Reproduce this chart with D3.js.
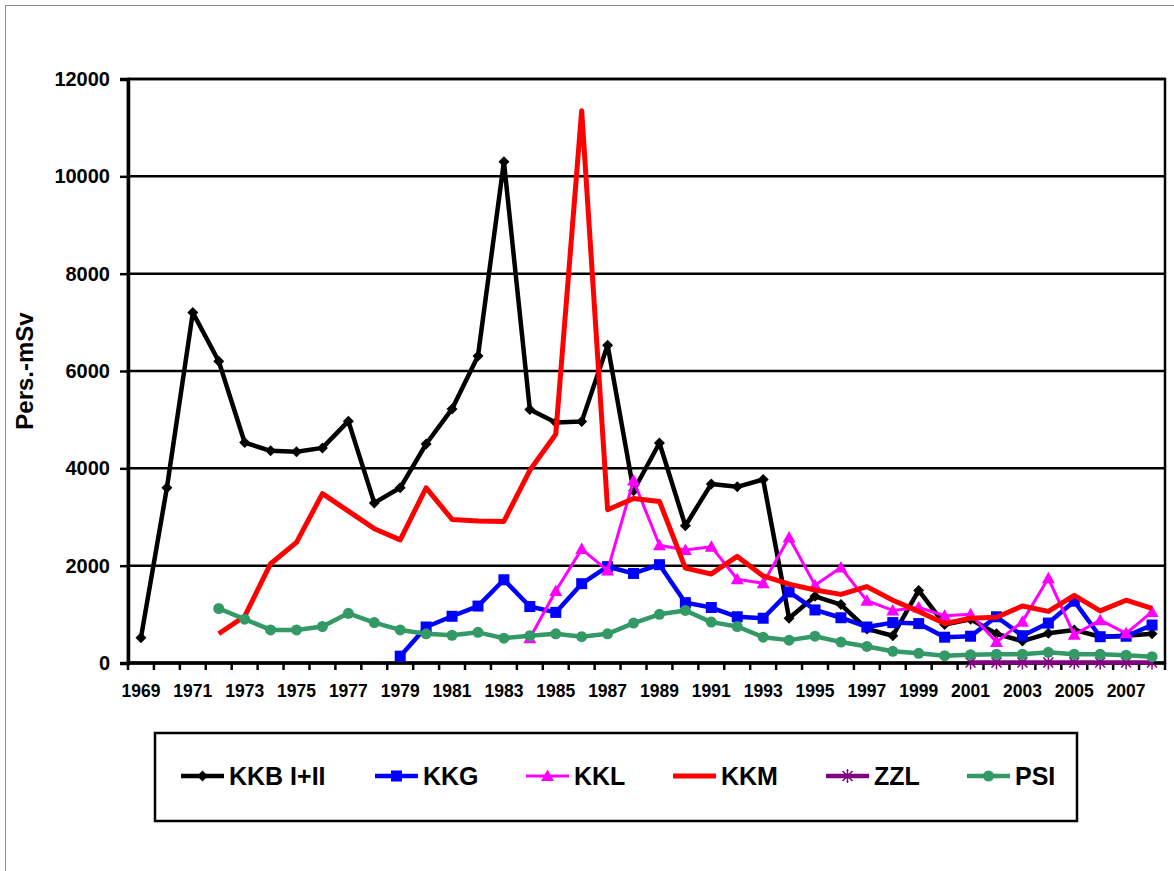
<!DOCTYPE html>
<html>
<head>
<meta charset="utf-8">
<script src="https://cdnjs.cloudflare.com/ajax/libs/d3/7.8.5/d3.min.js"></script>
<title>Kollektivdosen</title>
<style>
  body { margin: 0; background: #fff; }
  text { font-family: Arial, "Liberation Sans", sans-serif; font-weight: bold; fill: #000; }
</style>
</head>
<body>
<script>
// categories
var years = [1969,1970,1971,1972,1973,1974,1975,1976,1977,1978,
             1979,1980,1981,1982,1983,1984,1985,1986,1987,1988,
             1989,1990,1991,1992,1993,1994,1995,1996,1997,1998,
             1999,2000,2001,2002,2003,2004,2005,2006,2007,2008];
var yTicks = [0, 2000, 4000, 6000, 8000, 10000, 12000];
var xLabels = [1969,1971,1973,1975,1977,1979,1981,1983,1985,1987,
               1989,1991,1993,1995,1997,1999,2001,2003,2005,2007];

// series values (Pers.-mSv), each starting at its first year
var kkbStart = 1969;
var kkb = [520,3600,7200,6200,4530,4360,4340,4420,4970,3290,
           3600,4500,5220,6310,10300,5210,4940,4960,6530,3540,
           4520,2820,3680,3620,3770,920,1370,1200,700,560,
           1490,790,900,600,450,610,680,540,560,600];
var kkgStart = 1979;
var kkg = [140,740,960,1170,1710,1160,1040,1630,1980,1840,
           2020,1240,1140,950,920,1460,1090,930,740,830,
           810,530,550,950,560,820,1270,540,550,780];
var kklStart = 1984;
var kkl = [510,1480,2340,1900,3750,
           2420,2320,2390,1720,1640,2580,1600,1960,1280,1080,
           1140,970,1000,430,850,1740,580,880,610,1050];
var kkmStart = 1972;
var kkm = [600,960,2040,2480,3480,3120,2760,
           2530,3600,2950,2920,2910,3960,4700,11350,3150,3380,
           3320,1950,1830,2190,1790,1620,1500,1410,1570,1290,
           1060,810,920,940,1170,1060,1390,1070,1290,1120];
var zzlStart = 2001;
var zzl = [10,10,10,10,10,10,10,10];
var psiStart = 1972;
var psi = [1120,900,680,680,750,1020,830,
           680,600,570,630,510,560,600,540,600,820,
           1000,1080,840,750,530,470,550,430,340,240,
           200,150,170,180,180,220,180,180,160,130];

var seriesNames = ["KKB I+II", "KKG", "KKL", "KKM", "ZZL", "PSI"];

function pts(start, vals) {
  return vals.map(function(v, i) { return {year: start + i, v: v}; });
}

var series = [
  {name: "KKB I+II", color: "#000000", width: 4.5, marker: "diamond",  data: pts(kkbStart, kkb)},
  {name: "KKG",      color: "#0000ff", width: 4.5, marker: "square",   data: pts(kkgStart, kkg)},
  {name: "KKL",      color: "#ff00ff", width: 3,   marker: "triangle", data: pts(kklStart, kkl)},
  {name: "KKM",      color: "#ff0000", width: 5,   marker: "none",     data: pts(kkmStart, kkm)},
  {name: "ZZL",      color: "#800080", width: 4.5, marker: "star",     data: pts(zzlStart, zzl)},
  {name: "PSI",      color: "#339966", width: 4.5, marker: "circle",   data: pts(psiStart, psi)}
];

var W = 1174, H = 871;
var pLeft = 128, pRight = 1165, pTop = 79, pBottom = 663;

var svg = d3.select("body").append("svg")
  .attr("width", W).attr("height", H);

// outer frame (cropped: only left and top visible)
svg.append("rect")
  .attr("x", 5.5).attr("y", 5.5).attr("width", 1300).attr("height", 1000)
  .attr("fill", "none").attr("stroke", "#8c8c8c").attr("stroke-width", 1);

var x = d3.scaleBand().domain(years).range([pLeft, pRight]).padding(0);
var y = d3.scaleLinear().domain([0, 12000]).range([pBottom, pTop]);
var bw = x.bandwidth();

// gridlines
svg.append("g").selectAll("line").data(yTicks).enter().append("line")
  .attr("x1", pLeft).attr("x2", pRight)
  .attr("y1", function(d) { return y(d); }).attr("y2", function(d) { return y(d); })
  .attr("stroke", "#000").attr("stroke-width", 2.5);

// plot border
svg.append("rect")
  .attr("x", pLeft).attr("y", pTop).attr("width", pRight - pLeft).attr("height", pBottom - pTop)
  .attr("fill", "none").attr("stroke", "#000").attr("stroke-width", 2.5);

// y axis
var yAxis = svg.append("g").attr("transform", "translate(" + pLeft + ",0)")
  .call(d3.axisLeft(y).tickValues(yTicks).tickSize(8).tickPadding(10).tickFormat(d3.format("d")));
yAxis.select(".domain").attr("stroke", "#000").attr("stroke-width", 3.5);
yAxis.selectAll(".tick line").attr("stroke", "#000").attr("stroke-width", 2.5);
yAxis.selectAll(".tick text").style("font-size", "20px").attr("font-family", null);

// x axis: tick marks on category boundaries, labels on every other year
var xg = svg.append("g");
xg.append("line").attr("x1", pLeft).attr("x2", pRight).attr("y1", pBottom).attr("y2", pBottom)
  .attr("stroke", "#000").attr("stroke-width", 3.5);
xg.selectAll("line.tk").data(years.concat([null])).enter().append("line")
  .attr("class", "tk")
  .attr("x1", function(d) { return d === null ? pRight : x(d); })
  .attr("x2", function(d) { return d === null ? pRight : x(d); })
  .attr("y1", pBottom).attr("y2", pBottom + 7)
  .attr("stroke", "#000").attr("stroke-width", 2.5);
xg.selectAll("text").data(xLabels).enter().append("text")
  .attr("x", function(d) { return x(d) + bw / 2; })
  .attr("y", pBottom + 34)
  .attr("text-anchor", "middle")
  .style("font-size", "17.5px")
  .text(function(d) { return d; });

// y title
svg.append("text")
  .attr("transform", "translate(33," + ((pTop + pBottom) / 2) + ") rotate(-90)")
  .attr("text-anchor", "middle")
  .style("font-size", "24px")
  .text("Pers.-mSv");

function drawMarker(g, type, color) {
  if (type === "diamond") {
    g.append("path").attr("d", "M0,-5.5L5.5,0L0,5.5L-5.5,0Z").attr("fill", color);
  } else if (type === "square") {
    g.append("rect").attr("x", -5.5).attr("y", -5.5).attr("width", 11).attr("height", 11).attr("fill", color);
  } else if (type === "triangle") {
    g.append("path").attr("d", "M0,-6.5L6.5,5L-6.5,5Z").attr("fill", color);
  } else if (type === "circle") {
    g.append("circle").attr("r", 5.5).attr("fill", color);
  } else if (type === "star") {
    g.append("path").attr("d", "M0,-7V7M-5,-5L5,5M-5,5L5,-5")
      .attr("stroke", color).attr("stroke-width", 1.5).attr("fill", "none");
  }
}

var line = d3.line()
  .x(function(d) { return x(d.year) + bw / 2; })
  .y(function(d) { return y(d.v); });

series.forEach(function(s) {
  var g = svg.append("g");
  g.append("path").datum(s.data)
    .attr("d", line)
    .attr("fill", "none")
    .attr("stroke", s.color)
    .attr("stroke-width", s.width)
    .attr("stroke-linejoin", "round");
  if (s.marker !== "none") {
    g.selectAll("g.m").data(s.data).enter().append("g")
      .attr("class", "m")
      .attr("transform", function(d) { return "translate(" + (x(d.year) + bw / 2) + "," + y(d.v) + ")"; })
      .each(function() { drawMarker(d3.select(this), s.marker, s.color); });
  }
});

// legend
var lg = svg.append("g");
lg.append("rect").attr("x", 155).attr("y", 733).attr("width", 922).attr("height", 88)
  .attr("fill", "#fff").attr("stroke", "#000").attr("stroke-width", 2.5);
var legX = [181, 375, 526, 673, 826, 967];
series.forEach(function(s, i) {
  var gi = lg.append("g").attr("transform", "translate(" + legX[i] + ",776)");
  gi.append("line").attr("x1", 0).attr("x2", 43).attr("y1", 0).attr("y2", 0)
    .attr("stroke", s.color).attr("stroke-width", s.width);
  var mg = gi.append("g").attr("transform", "translate(21.5,0)");
  drawMarker(mg, s.marker, s.color);
  gi.append("text").attr("x", 48).attr("y", 9).style("font-size", "25px").text(seriesNames[i]);
});
</script>
</body>
</html>
